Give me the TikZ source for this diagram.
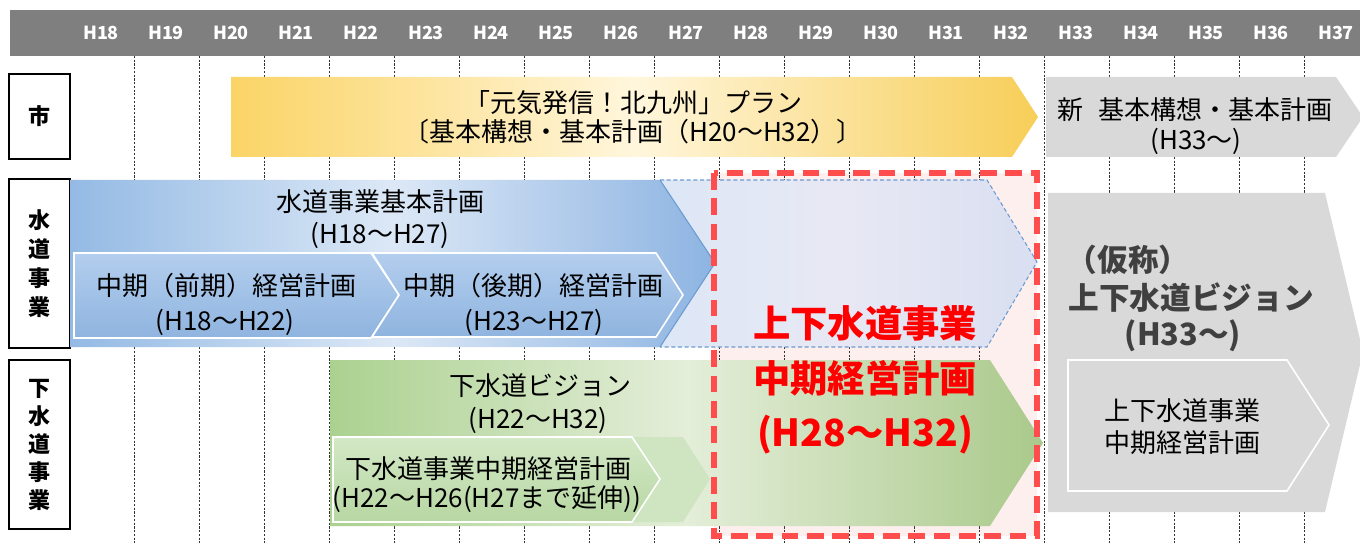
\documentclass[tikz,border=0pt]{standalone}
\usepackage{fontspec}
\setmainfont{Noto Sans CJK JP}
\definecolor{hdrgray}{HTML}{7F7F7F}
\definecolor{yel1}{HTML}{FBD466}
\definecolor{yel2}{HTML}{FFF6DC}
\definecolor{yel3}{HTML}{F7CE58}
\definecolor{blu1}{HTML}{94BAE4}
\definecolor{blu2}{HTML}{DCE8F6}
\definecolor{blu3}{HTML}{8DB4E2}
\definecolor{bluT}{HTML}{B3CEEE}
\definecolor{bluB}{HTML}{8FB4DF}
\definecolor{bluedge}{HTML}{6C9BD2}
\definecolor{lav1}{HTML}{DCE7F6}
\definecolor{lav2}{HTML}{E8E8F4}
\definecolor{lav3}{HTML}{D9DFF1}
\definecolor{grn1}{HTML}{ABD190}
\definecolor{grn2}{HTML}{E4EED9}
\definecolor{grn3}{HTML}{AAC98B}
\definecolor{grnT}{HTML}{D3E8C6}
\definecolor{grnB}{HTML}{B7D7A2}
\definecolor{grnL}{HTML}{CFE5C1}
\definecolor{gry}{HTML}{D9D9D9}
\definecolor{grytxt}{HTML}{404040}
\definecolor{redbox}{HTML}{FF4D4D}
\definecolor{pinkfill}{HTML}{FEEFEF}
\definecolor{redtext}{HTML}{FF0000}
\begin{document}
\begin{tikzpicture}[x=0.75pt,y=-0.75pt,
  txt/.style={font=\fontsize{19.5pt}{22pt}\selectfont, inner sep=0pt, anchor=base, text=black},
  hdr/.style={font=\fontsize{13.5pt}{15pt}\selectfont\bfseries, inner sep=0pt, anchor=base, text=white},
  lbl/.style={font=\fontsize{16.5pt}{21.5pt}\selectfont\bfseries, inner sep=0pt, align=center, text=black},
  redtxt/.style={font=\fontsize{28pt}{30pt}\selectfont\bfseries, inner sep=0pt, anchor=base, text=redtext},
  bigtxt/.style={font=\fontsize{23pt}{26pt}\selectfont\bfseries, inner sep=0pt, anchor=base, text=grytxt},
  grid/.style={draw=black!80, line width=0.5pt, dash pattern=on 1.6pt off 1.2pt},
  lblbox/.style={draw=black, line width=1.9pt, fill=white},
  inner/.style={draw=white, line width=1.2pt}
]
\useasboundingbox (0,0) rectangle (1360,545);

% header bar
\fill[hdrgray] (10,10) rectangle (1360,56);
\foreach \i in {18,...,37}
  \node[hdr] (h\i) at ({101+65*(\i-18)},39.5) {H\i};

% red box background
\fill[pinkfill] (714,173) rectangle (1037,536);

% grid lines
\foreach \k in {0,...,18}
  \draw[grid] ({134+65*\k},56) -- ({134+65*\k},545);

% left label boxes
\draw[lblbox] (9,74) rectangle (70,159);
\draw[lblbox] (9,179) rectangle (70,348);
\draw[lblbox] (9,360) rectangle (70,529);
\node[lbl] (lshi) at (39.5,116.5) {市};
\node[lbl, font=\fontsize{16.5pt}{21.8pt}\selectfont\bfseries] (lsui) at (39.5,263.5) {水\\道\\事\\業};
\node[lbl, font=\fontsize{16.5pt}{21pt}\selectfont\bfseries] (lgesui) at (39.5,444.5) {下\\水\\道\\事\\業};

% yellow arrow (city plan)
\shade[left color=yel1, right color=yel3, middle color=yel2]
  (231,77) -- (1012,77) -- (1038,117) -- (1012,157) -- (231,157) -- cycle;
\node[txt] (y1) at (633,113) {「元気発信！北九州」プラン};
\node[txt] (y2) at (633,142) {〔基本構想・基本計画（H20～H32）〕};

% gray top arrow
\fill[gry] (1046,77) -- (1336,77) -- (1363,117) -- (1336,157) -- (1046,157) -- cycle;
\node[txt] (g1) at (1195,120) {新\hspace{0.55em}基本構想・基本計画};
\node[txt] (g2) at (1196,150) {(H33～)};

% blue dashed continuation
\shade[left color=lav1, right color=lav3, middle color=lav2]
  (650,180) -- (987,180) -- (1037,262) -- (987,347) -- (650,347) -- cycle;
\draw[bluedge, line width=0.8pt, dash pattern=on 3pt off 2pt]
  (660,180) -- (987,180) -- (1037,262) -- (987,347) -- (660,347);

% blue main arrow
\shade[left color=blu1, right color=blu3, middle color=blu2]
  (70,180) -- (660,180) -- (715,263) -- (660,347) -- (70,347) -- cycle;
\draw[bluedge, line width=0.8pt] (660,180) -- (715,263) -- (660,347);
\node[txt] (b1) at (380,212) {水道事業基本計画};
\node[txt] (b2) at (380,244) {(H18～H27)};

% blue sub chevrons
\shade[top color=bluT, bottom color=bluB]
  (74,253) -- (371,253) -- (399,295) -- (371,338) -- (74,338) -- cycle;
\draw[inner] (74,253) -- (371,253) -- (399,295) -- (371,338) -- (74,338) -- cycle;
\shade[top color=bluT, bottom color=bluB]
  (372,253) -- (656,253) -- (683,295) -- (656,337) -- (372,337) -- (399,295) -- cycle;
\draw[inner] (372,253) -- (656,253) -- (683,295) -- (656,337) -- (372,337) -- (399,295) -- cycle;
\node[txt] (s1a) at (226,296) {中期（前期）経営計画};
\node[txt] (s1b) at (225,330) {(H18～H22)};
\node[txt] (s2a) at (533,296) {中期（後期）経営計画};
\node[txt] (s2b) at (534,330) {(H23～H27)};

% green main arrow
\shade[left color=grn1, right color=grn3, middle color=grn2]
  (330,360) -- (990,360) -- (1043,443) -- (990,526) -- (330,526) -- cycle;
\node[txt] (v1) at (540,395) {下水道ビジョン};
\node[txt] (v2) at (538,428) {(H22～H32)};

% green sub chevrons
\fill[grnL] (632,437) -- (683,437) -- (710,479) -- (683,522) -- (632,522) -- (660,479) -- cycle;
\shade[top color=grnT, bottom color=grnB]
  (333,437) -- (632,437) -- (660,479) -- (632,522) -- (333,522) -- cycle;
\draw[inner] (333,437) -- (632,437) -- (660,479) -- (632,522) -- (333,522) -- cycle;
\node[txt] (w1) at (488,478) {下水道事業中期経営計画};
\node[txt] (w2) at (487,507) {(H22～H26(H27まで延伸))};

% gray big arrow
\fill[gry] (1048,193) -- (1325,193) -- (1363,352) -- (1325,512) -- (1048,512) -- cycle;
\node[bigtxt] (k1) at (1128,272) {（仮称）};
\node[bigtxt] (k2) at (1191,310) {上下水道ビジョン};
\node[bigtxt] (k3) at (1183,345) {(H33～)};
\fill[gry] (1068,360) -- (1287,360) -- (1329,425) -- (1287,491) -- (1068,491) -- cycle;
\draw[inner] (1068,360) -- (1287,360) -- (1329,425) -- (1287,491) -- (1068,491) -- cycle;
\node[txt] (m1) at (1182,420) {上下水道事業};
\node[txt] (m2) at (1182,452) {中期経営計画};

% red dashed box
\draw[redbox, line width=3.8pt, dash pattern=on 12.5pt off 6.5pt] (714,173) rectangle (1037,536);
\node[redtxt] (r1) at (865,337) {上下水道事業};
\node[redtxt] (r2) at (865,392) {中期経営計画};
\node[redtxt] (r3) at (865,446) {(H28～H32)};
\end{tikzpicture}
\end{document}
